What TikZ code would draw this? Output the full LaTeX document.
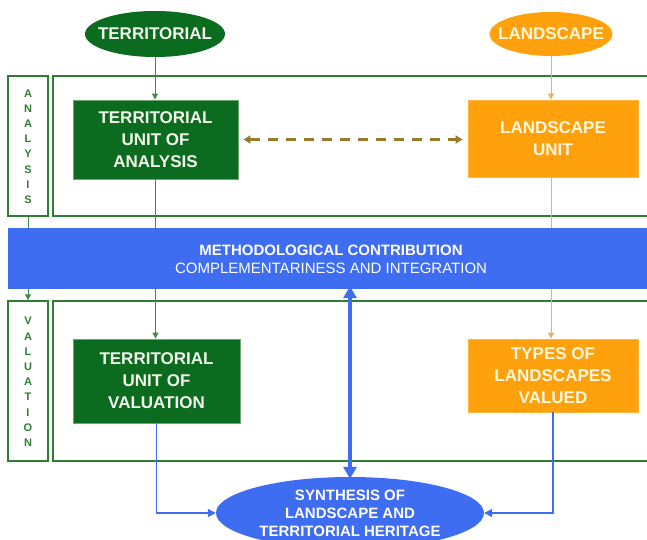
\documentclass[tikz,border=0pt]{standalone}
\usepackage{fontspec}
\setmainfont{Liberation Sans}
\usetikzlibrary{arrows.meta,shapes.geometric}
\definecolor{dgreen}{HTML}{0B6B1F}
\definecolor{lgreen}{HTML}{2F7D34}
\definecolor{orng}{HTML}{FFA10C}
\definecolor{lorng}{HTML}{E4B36A}
\definecolor{blu}{HTML}{3F6DF2}
\definecolor{brn}{HTML}{9A7A2A}
\definecolor{gtext}{HTML}{F2F6EA}
\definecolor{otext}{HTML}{FFF7DC}
\tikzset{
  gbox/.style={draw=lgreen!70!white,line width=0.8pt,fill=dgreen,text=gtext,font=\bfseries\fontsize{17}{22}\selectfont,align=center,inner sep=0pt},
  obox/.style={draw=orng!80!white,line width=0.8pt,fill=orng,text=otext,font=\bfseries\fontsize{17}{22}\selectfont,align=center,inner sep=0pt},
  frame/.style={draw=lgreen,line width=1.4pt,inner sep=0pt},
  vlabel/.style={font=\bfseries\fontsize{11}{15.2}\selectfont,text=lgreen,align=center},
  garrow/.style={draw=lgreen!90!white,line width=0.9pt,-{Triangle[length=6pt,width=6pt]}},
  oarrow/.style={draw=lorng,line width=0.9pt,-{Triangle[length=6pt,width=6pt]}},
  barrow/.style={draw=blu,line width=1.6pt,-{Triangle[length=8pt,width=8pt]}},
  toplabel/.style={font=\bfseries\fontsize{17}{20}\selectfont,inner sep=0pt},
}
\begin{document}
\begin{tikzpicture}[x=1pt,y=-1pt]
\useasboundingbox (0,0) rectangle (647,540);
\clip (0,0) rectangle (647,540);
\fill[white] (0,0) rectangle (647,540);
% frames
\node[frame,minimum width=40,minimum height=140] (aleft) at (28,146) {};
\node[frame,minimum width=600,minimum height=140] (amain) at (353,146) {};
\node[frame,minimum width=40,minimum height=160] (vleft) at (28,381) {};
\node[frame,minimum width=600,minimum height=160] (vmain) at (353,381) {};
\node[vlabel] (alab) at (28,146.5) {A\\N\\A\\L\\Y\\S\\I\\S};
\node[vlabel] (vlab) at (28,382) {V\\A\\L\\U\\A\\T\\I\\O\\N};
% top ellipses
\node[ellipse,fill=dgreen,minimum width=140,minimum height=46,inner sep=0pt,
  label={[toplabel,text=gtext]center:TERRITORIAL}] (terr) at (155,34) {};
\node[ellipse,fill=orng,minimum width=123,minimum height=44,inner sep=0pt,
  label={[toplabel,text=otext]center:LANDSCAPE}] (land) at (551,34) {};
% boxes
\node[gbox,minimum width=165,minimum height=79] (tua) at (155.5,139.5) {TERRITORIAL\\UNIT OF\\ANALYSIS};
\node[obox,minimum width=170,minimum height=77] (lu) at (553,138.5) {LANDSCAPE\\UNIT};
\node[gbox,minimum width=167,minimum height=84] (tuv) at (156.5,381) {TERRITORIAL\\UNIT OF\\VALUATION};
\node[obox,minimum width=170,minimum height=73] (types) at (553,375.5) {TYPES OF\\LANDSCAPES\\VALUED};
% connectors behind band
\draw[garrow] (terr.south) -- (tua.north -| terr.south);
\draw[oarrow] (land.south) -- (lu.north -| land.south);
\draw[garrow] (aleft.south) -- (vleft.north);
\draw[garrow] (tua.south) -- (tuv.north -| tua.south);
\draw[oarrow] (lu.south -| land.south) -- (types.north -| land.south);
% band
\node[fill=blu,minimum width=647,minimum height=61,inner sep=0pt] (band) at (331.5,258.5) {};
\node[text=white,font=\bfseries\fontsize{15}{18}\selectfont,align=center] (bandtext) at (331,259) {METHODOLOGICAL CONTRIBUTION\\{\mdseries COMPLEMENTARINESS AND INTEGRATION}};
% dashed
\draw[draw=brn,line width=2.5pt,dash pattern=on 10pt off 8pt,{Triangle[length=7pt,width=8pt]}-{Triangle[length=7pt,width=8pt]}] ([xshift=5pt]tua.east) -- ([xshift=-5pt]tua.east -| lu.west);
% synthesis
\node[ellipse,fill=blu,text=white,font=\bfseries\fontsize{15}{18}\selectfont,align=center,minimum width=268,minimum height=72,inner sep=0pt] (syn) at (350,513) {SYNTHESIS OF\\LANDSCAPE AND\\TERRITORIAL HERITAGE};
\draw[barrow] (tuv.south) |- (syn.west);
\draw[barrow] (types.south) |- (syn.east);
\draw[draw=blu,line width=3.5pt,{Triangle[length=12pt,width=13pt]}-{Triangle[length=12pt,width=13pt]}] ([yshift=3pt]band.south -| syn.north) -- ([yshift=-2pt]syn.north);
\end{tikzpicture}
\end{document}
